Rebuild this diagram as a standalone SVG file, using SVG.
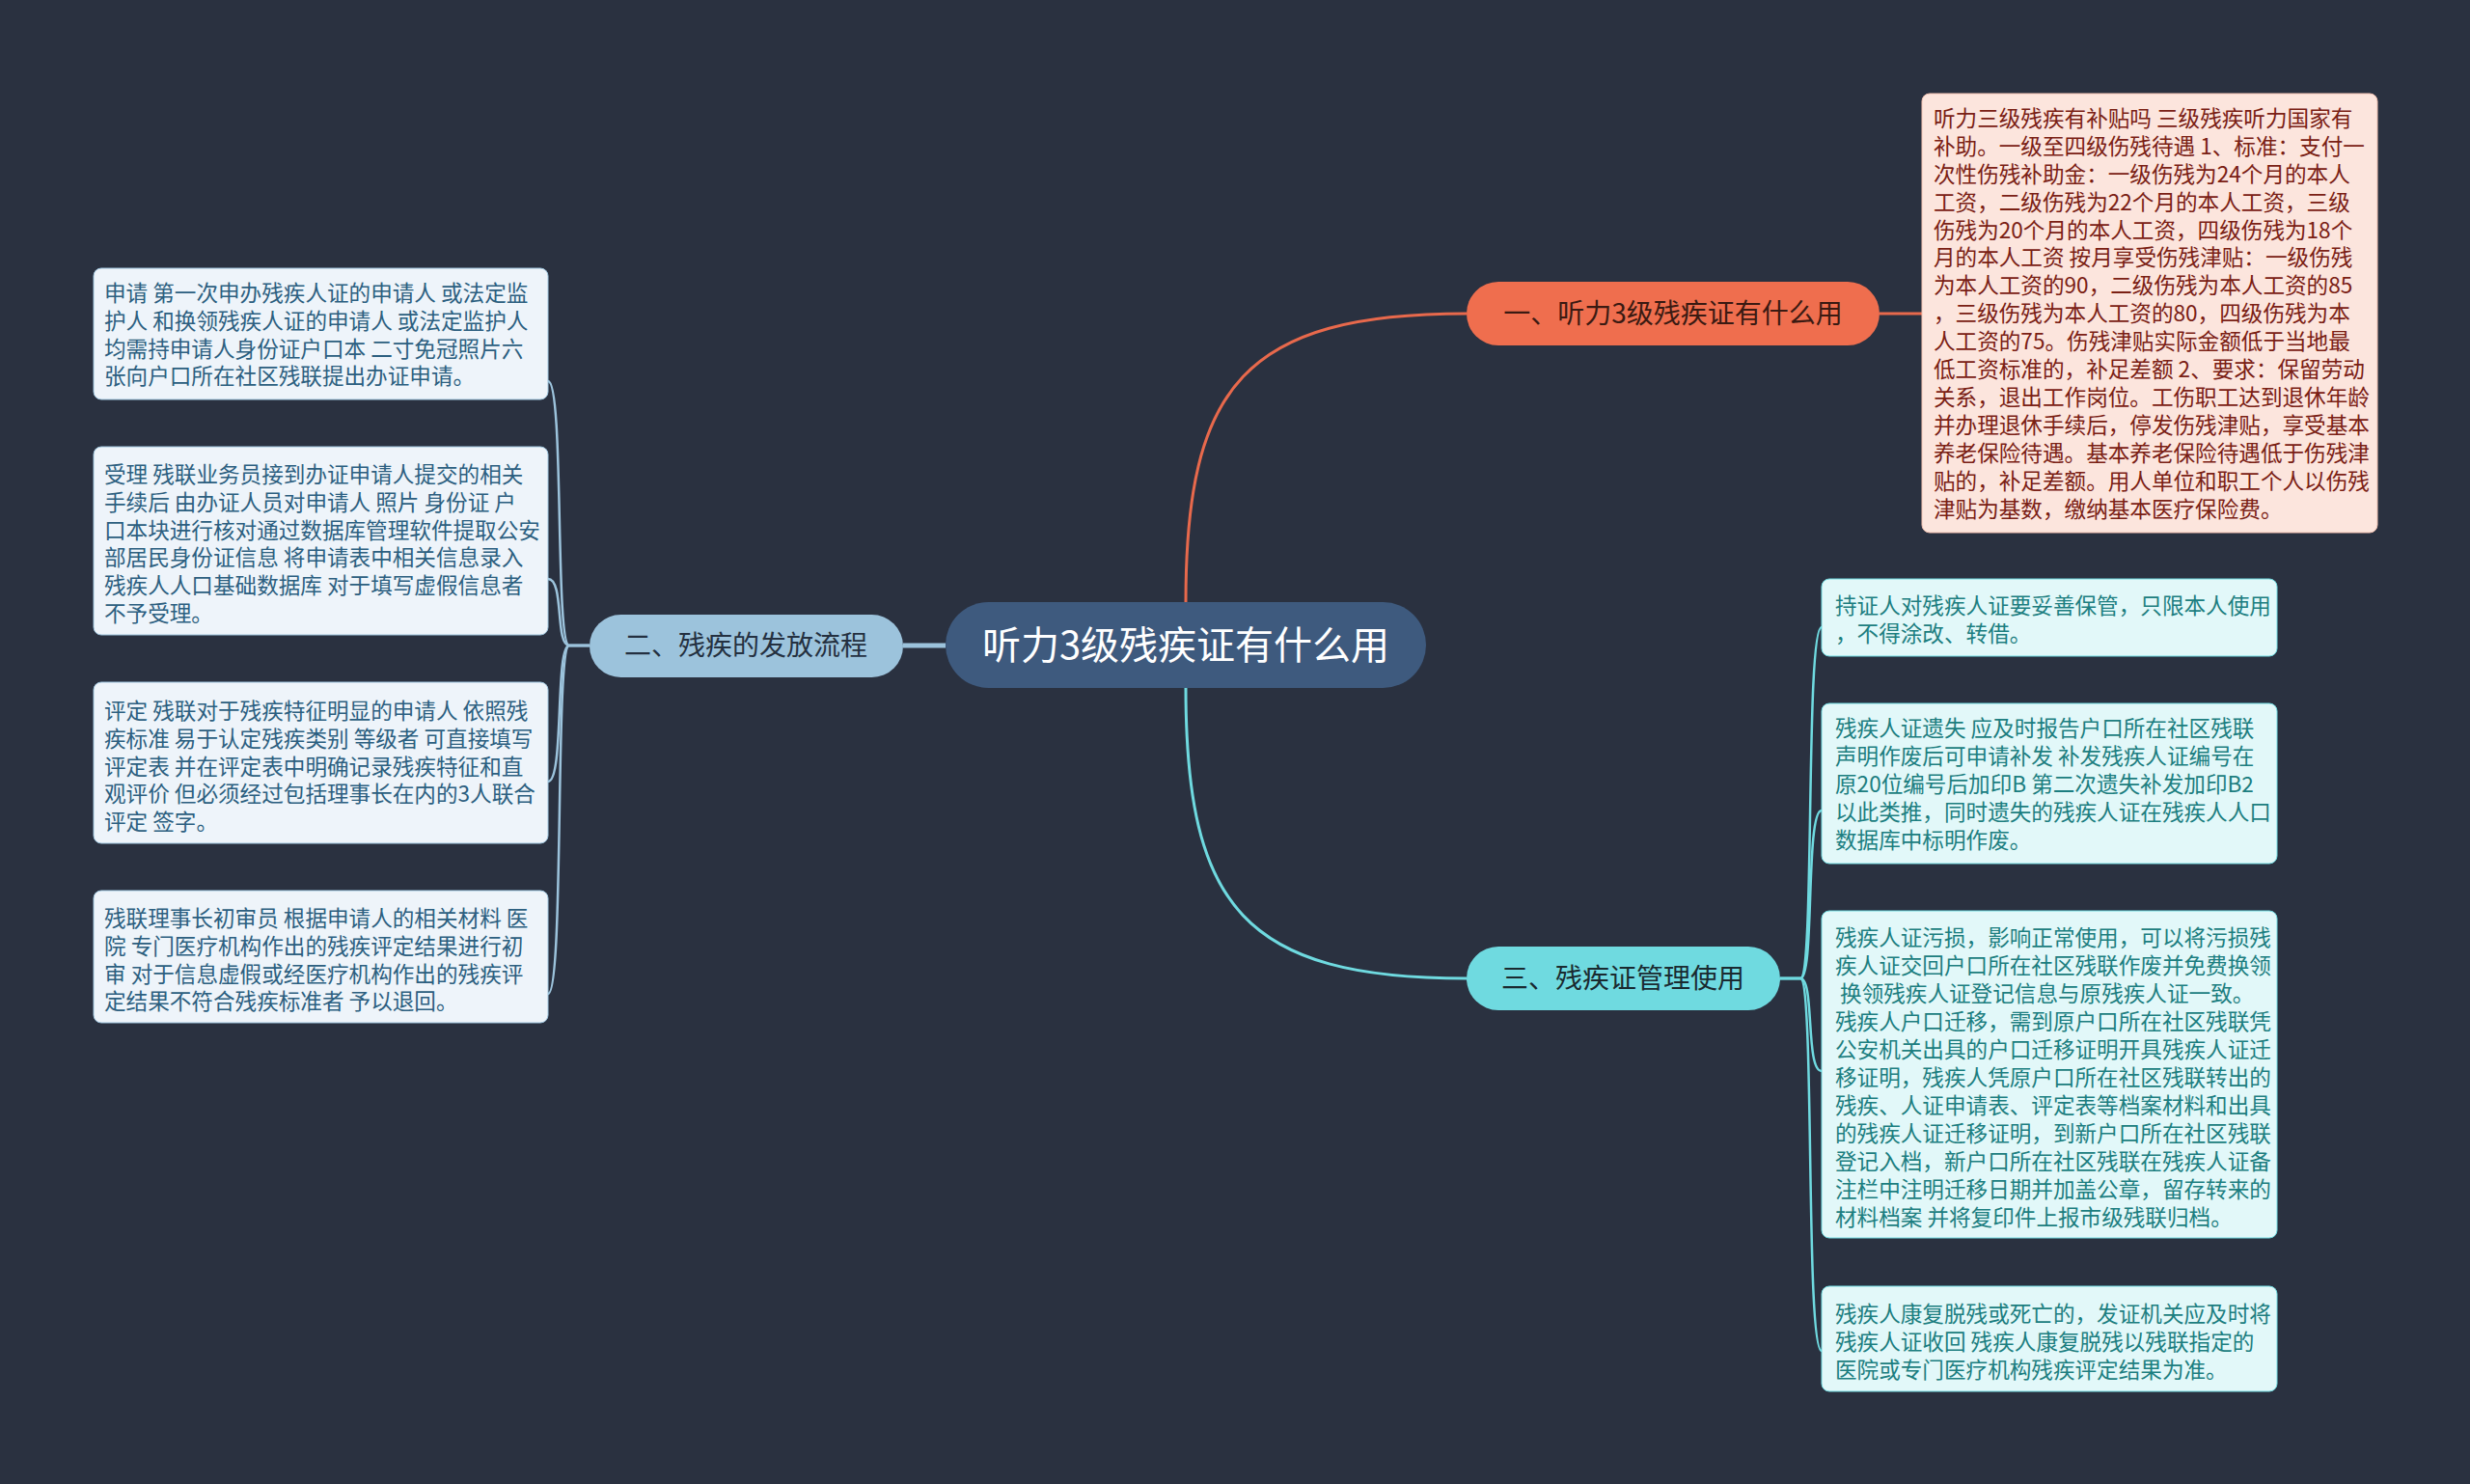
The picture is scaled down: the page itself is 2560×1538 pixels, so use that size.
<svg xmlns="http://www.w3.org/2000/svg" width="2560" height="1538" viewBox="0 0 2560 1538">
<style>
text{font-family:"Noto Sans CJK SC","Noto Sans",sans-serif;white-space:pre}
.t{font-size:22.6px}
.lb{fill:#2c5f80}
.rb{fill:#1c7e80}
.tb{fill:#7a2014}
.n{font-size:28px;text-anchor:middle}
.cl{fill:none;stroke-width:2.5}
</style>
<rect width="2560" height="1538" fill="#2a3140"/>
<g id="connectors">
<path d="M1229 624 C1229 400 1290 325 1520 325" stroke="#e8694c" stroke-width="3" fill="none"/>
<path d="M1229 713 C1229 940 1290 1014 1520 1014" stroke="#6fdae0" stroke-width="3" fill="none"/>
<path d="M980 669 L936 669" stroke="#9cc3dc" stroke-width="5" fill="none"/>
<path d="M1948 325 L1992 325" stroke="#e8694c" stroke-width="3" fill="none"/>
<g stroke="#9cc3dc" class="cl">
<path d="M611 669 L590 669 C575 669 585 395 568 395"/>
<path d="M611 669 L590 669 C575 669 585 600 568 600"/>
<path d="M611 669 L590 669 C575 669 585 810 568 810"/>
<path d="M611 669 L590 669 C575 669 585 1030 568 1030"/>
</g>
<g stroke="#6fdae0" class="cl">
<path d="M1845 1014 L1866 1014 C1881 1014 1871 650 1888 650"/>
<path d="M1845 1014 L1866 1014 C1881 1014 1871 840 1888 840"/>
<path d="M1845 1014 L1866 1014 C1881 1014 1871 1110 1888 1110"/>
<path d="M1845 1014 L1866 1014 C1881 1014 1871 1400 1888 1400"/>
</g>
</g>
<g id="center">
<rect x="980" y="624" width="498" height="89" rx="44.5" fill="#3e5a7e"/>
<text x="1229" y="683" font-size="40" text-anchor="middle" fill="#ffffff">听力3级残疾证有什么用</text>
</g>
<g id="node1">
<rect x="1520" y="292" width="428" height="66" rx="33" fill="#ef6e4e"/>
<text class="n" x="1734" y="335" fill="#3a1a12">一、听力3级残疾证有什么用</text>
</g>
<g id="node2">
<rect x="611" y="637" width="325" height="65" rx="32.5" fill="#9cc3dc"/>
<text class="n" x="773" y="679" fill="#243040">二、残疾的发放流程</text>
</g>
<g id="node3">
<rect x="1520" y="981" width="325" height="66" rx="33" fill="#6fdae0"/>
<text class="n" x="1682" y="1024" fill="#1a2a30">三、残疾证管理使用</text>
</g>
<g id="box-top">
<rect x="1992" y="97" width="472" height="455" rx="8" fill="#fce5dd" stroke="#f0c0b0" stroke-width="1"/>
<text class="t tb" x="2004" y="131">听力三级残疾有补贴吗 三级残疾听力国家有</text>
<text class="t tb" x="2004" y="160">补助。一级至四级伤残待遇 1、标准：支付一</text>
<text class="t tb" x="2004" y="189">次性伤残补助金：一级伤残为24个月的本人</text>
<text class="t tb" x="2004" y="218">工资，二级伤残为22个月的本人工资，三级</text>
<text class="t tb" x="2004" y="247">伤残为20个月的本人工资，四级伤残为18个</text>
<text class="t tb" x="2004" y="275">月的本人工资 按月享受伤残津贴：一级伤残</text>
<text class="t tb" x="2004" y="304">为本人工资的90，二级伤残为本人工资的85</text>
<text class="t tb" x="2004" y="333">，三级伤残为本人工资的80，四级伤残为本</text>
<text class="t tb" x="2004" y="362">人工资的75。伤残津贴实际金额低于当地最</text>
<text class="t tb" x="2004" y="391">低工资标准的，补足差额 2、要求：保留劳动</text>
<text class="t tb" x="2004" y="420">关系，退出工作岗位。工伤职工达到退休年龄</text>
<text class="t tb" x="2004" y="449">并办理退休手续后，停发伤残津贴，享受基本</text>
<text class="t tb" x="2004" y="478">养老保险待遇。基本养老保险待遇低于伤残津</text>
<text class="t tb" x="2004" y="507">贴的，补足差额。用人单位和职工个人以伤残</text>
<text class="t tb" x="2004" y="536">津贴为基数，缴纳基本医疗保险费。</text>
</g>
<g id="box-l1">
<rect x="97" y="278" width="471" height="136" rx="8" fill="#eef4fa" stroke="#9cc3dc" stroke-width="1"/>
<text class="t lb" x="108" y="312">申请 第一次申办残疾人证的申请人 或法定监</text>
<text class="t lb" x="108" y="341">护人 和换领残疾人证的申请人 或法定监护人</text>
<text class="t lb" x="108" y="370">均需持申请人身份证户口本 二寸免冠照片六</text>
<text class="t lb" x="108" y="398">张向户口所在社区残联提出办证申请。</text>
</g>
<g id="box-l2">
<rect x="97" y="463" width="471" height="195" rx="8" fill="#eef4fa" stroke="#9cc3dc" stroke-width="1"/>
<text class="t lb" x="108" y="500">受理 残联业务员接到办证申请人提交的相关</text>
<text class="t lb" x="108" y="529">手续后 由办证人员对申请人 照片 身份证 户</text>
<text class="t lb" x="108" y="558">口本块进行核对通过数据库管理软件提取公安</text>
<text class="t lb" x="108" y="586">部居民身份证信息 将申请表中相关信息录入</text>
<text class="t lb" x="108" y="615">残疾人人口基础数据库 对于填写虚假信息者</text>
<text class="t lb" x="108" y="644">不予受理。</text>
</g>
<g id="box-l3">
<rect x="97" y="707" width="471" height="167" rx="8" fill="#eef4fa" stroke="#9cc3dc" stroke-width="1"/>
<text class="t lb" x="108" y="745">评定 残联对于残疾特征明显的申请人 依照残</text>
<text class="t lb" x="108" y="774">疾标准 易于认定残疾类别 等级者 可直接填写</text>
<text class="t lb" x="108" y="803">评定表 并在评定表中明确记录残疾特征和直</text>
<text class="t lb" x="108" y="831">观评价 但必须经过包括理事长在内的3人联合</text>
<text class="t lb" x="108" y="860">评定 签字。</text>
</g>
<g id="box-l4">
<rect x="97" y="923" width="471" height="137" rx="8" fill="#eef4fa" stroke="#9cc3dc" stroke-width="1"/>
<text class="t lb" x="108" y="960">残联理事长初审员 根据申请人的相关材料 医</text>
<text class="t lb" x="108" y="989">院 专门医疗机构作出的残疾评定结果进行初</text>
<text class="t lb" x="108" y="1018">审 对于信息虚假或经医疗机构作出的残疾评</text>
<text class="t lb" x="108" y="1046">定结果不符合残疾标准者 予以退回。</text>
</g>
<g id="box-r1">
<rect x="1888" y="600" width="472" height="80" rx="8" fill="#e2f8f9" stroke="#6fdae0" stroke-width="1"/>
<text class="t rb" x="1902" y="636">持证人对残疾人证要妥善保管，只限本人使用</text>
<text class="t rb" x="1902" y="665">，不得涂改、转借。</text>
</g>
<g id="box-r2">
<rect x="1888" y="729" width="472" height="166" rx="8" fill="#e2f8f9" stroke="#6fdae0" stroke-width="1"/>
<text class="t rb" x="1902" y="763">残疾人证遗失 应及时报告户口所在社区残联</text>
<text class="t rb" x="1902" y="792">声明作废后可申请补发 补发残疾人证编号在</text>
<text class="t rb" x="1902" y="821">原20位编号后加印B 第二次遗失补发加印B2</text>
<text class="t rb" x="1902" y="850">以此类推，同时遗失的残疾人证在残疾人人口</text>
<text class="t rb" x="1902" y="879">数据库中标明作废。</text>
</g>
<g id="box-r3">
<rect x="1888" y="944" width="472" height="339" rx="8" fill="#e2f8f9" stroke="#6fdae0" stroke-width="1"/>
<text class="t rb" x="1902" y="980">残疾人证污损，影响正常使用，可以将污损残</text>
<text class="t rb" x="1902" y="1009">疾人证交回户口所在社区残联作废并免费换领</text>
<text class="t rb" x="1902" y="1038"> 换领残疾人证登记信息与原残疾人证一致。</text>
<text class="t rb" x="1902" y="1067">残疾人户口迁移，需到原户口所在社区残联凭</text>
<text class="t rb" x="1902" y="1096">公安机关出具的户口迁移证明开具残疾人证迁</text>
<text class="t rb" x="1902" y="1125">移证明，残疾人凭原户口所在社区残联转出的</text>
<text class="t rb" x="1902" y="1154">残疾、人证申请表、评定表等档案材料和出具</text>
<text class="t rb" x="1902" y="1183">的残疾人证迁移证明，到新户口所在社区残联</text>
<text class="t rb" x="1902" y="1212">登记入档，新户口所在社区残联在残疾人证备</text>
<text class="t rb" x="1902" y="1241">注栏中注明迁移日期并加盖公章，留存转来的</text>
<text class="t rb" x="1902" y="1270">材料档案 并将复印件上报市级残联归档。</text>
</g>
<g id="box-r4">
<rect x="1888" y="1333" width="472" height="109" rx="8" fill="#e2f8f9" stroke="#6fdae0" stroke-width="1"/>
<text class="t rb" x="1902" y="1370">残疾人康复脱残或死亡的，发证机关应及时将</text>
<text class="t rb" x="1902" y="1399">残疾人证收回 残疾人康复脱残以残联指定的</text>
<text class="t rb" x="1902" y="1428">医院或专门医疗机构残疾评定结果为准。</text>
</g>
</svg>
